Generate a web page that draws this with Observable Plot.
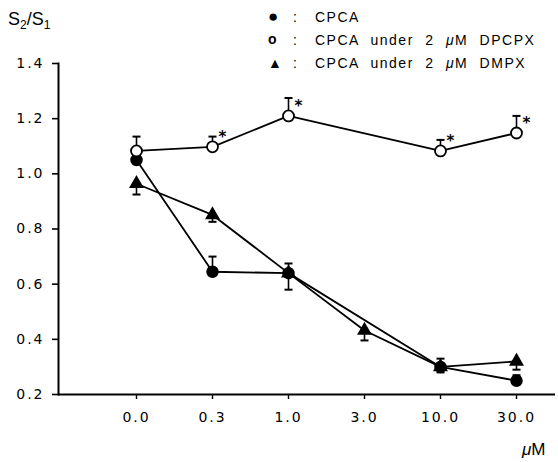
<!DOCTYPE html>
<html><head><meta charset="utf-8">
<script src="https://cdn.jsdelivr.net/npm/d3@7"></script>
<script src="https://cdn.jsdelivr.net/npm/@observablehq/plot@0.6"></script>
<style>
body{margin:0;background:#fff;}
#wrap{position:relative;width:558px;height:462px;font-family:"Liberation Sans",Arial,sans-serif;color:#000;}
#wrap svg{position:absolute;left:0;top:0;}
.ov{position:absolute;white-space:nowrap;line-height:1;}
#ytitle{left:8px;top:10px;font-size:18px;}
#ytitle sub{font-size:12px;vertical-align:-4px;line-height:0;}
#unit{left:522px;top:441px;font-size:17px;}
.leg{font-size:14px;letter-spacing:1.5px;word-spacing:6px;}
</style></head><body><div id="wrap"></div>
<script>
// Categories (x, evenly spaced)
const concentrations = ["0.0", "0.3", "1.0", "3.0", "10.0", "30.0"];
// CPCA (filled circles)
const cpca    = [1.05, 0.645, 0.64, null, 0.30, 0.25];
const cpcaErr = [null, 0.70, 0.675, null, 0.33, 0.27];
// CPCA under 2 µM DPCPX (open circles)
const dpcpx    = [1.083, 1.098, 1.21, null, 1.083, 1.148];
const dpcpxErr = [1.135, 1.135, 1.275, null, 1.123, 1.21];
const dpcpxSig = [false, true, true, false, true, true];
// CPCA under 2 µM DMPX (triangles)
const dmpx    = [0.964, 0.851, 0.64, 0.432, 0.30, 0.32];
const dmpxErr = [0.925, 0.826, 0.58, 0.396, 0.28, 0.29];
// y ticks
const yTicks = [0.2, 0.4, 0.6, 0.8, 1.0, 1.2, 1.4];
const legendLabels = ["CPCA", "CPCA under 2 \u03bcM DPCPX", "CPCA under 2 \u03bcM DMPX"];

const series = (vals, errs, sig) => concentrations
  .map((c, i) => ({c, v: vals[i], e: errs[i], s: sig ? sig[i] : false}))
  .filter(d => d.v != null);
const sCpca = series(cpca, cpcaErr);
const sDpcpx = series(dpcpx, dpcpxErr, dpcpxSig);
const sDmpx = series(dmpx, dmpxErr);

const cap = {draw(ctx, size) { const r = Math.sqrt(size / Math.PI); ctx.moveTo(-r, 0); ctx.lineTo(r, 0); }};
const errMarks = (s) => [
  Plot.ruleX(s.filter(d => d.e != null), {x: "c", y1: "v", y2: "e", stroke: "black", strokeWidth: 1.6}),
  Plot.dot(s.filter(d => d.e != null), {x: "c", y: "e", symbol: cap, r: 4, stroke: "black", strokeWidth: 2, fill: "none"})
];

const chart = Plot.plot({
  width: 558, height: 462,
  marginLeft: 58, marginRight: 3, marginTop: 63, marginBottom: 68,
  style: {fontFamily: "DejaVu Sans", fontSize: "14px", background: "transparent", color: "black", letterSpacing: "2px"},
  x: {type: "point", domain: concentrations, range: [135, 517], padding: 0, label: null},
  y: {domain: [0.2, 1.4], label: null},
  marks: [
    Plot.axisY({ticks: yTicks, tickFormat: d => d.toFixed(1), tickSize: 6, tickPadding: 8, label: null, strokeWidth: 1.6}),
    Plot.axisX({tickSize: 5, tickPadding: 13, label: null, strokeWidth: 1.4}),
    Plot.frame({anchor: "left", strokeWidth: 2}),
    Plot.ruleY([0.2], {strokeWidth: 2}),
    Plot.line(sCpca, {x: "c", y: "v", stroke: "black", strokeWidth: 1.8}),
    Plot.line(sDpcpx, {x: "c", y: "v", stroke: "black", strokeWidth: 1.8}),
    Plot.line(sDmpx, {x: "c", y: "v", stroke: "black", strokeWidth: 1.8}),
    ...errMarks(sCpca),
    ...errMarks(sDmpx),
    ...errMarks(sDpcpx),
    Plot.dot(sCpca, {x: "c", y: "v", r: 5.5, fill: "black", stroke: "black"}),
    Plot.dot(sDmpx, {x: "c", y: "v", symbol: "triangle", r: 4.6, fill: "black", stroke: "black"}),
    Plot.dot(sDpcpx, {x: "c", y: "v", r: 5.5, fill: "white", stroke: "black", strokeWidth: 1.8}),
    Plot.text(sDpcpx.filter(d => d.s), {x: "c", y: "v", text: () => "*", dx: 11, dy: -10, fontSize: 15, fontWeight: "bold", letterSpacing: "0px"})
  ]
});

const wrap = document.getElementById("wrap");
wrap.appendChild(chart);

const addDiv = (cls, html, style) => { const d = document.createElement("div"); d.className = "ov " + cls; d.innerHTML = html; Object.assign(d.style, style || {}); wrap.appendChild(d); return d; };
addDiv("", "S<sub>2</sub>/S<sub>1</sub>", {}).id = "ytitle";
addDiv("", "<i>\u03bc</i>M", {}).id = "unit";
const syms = ["\u25cf", "o", "\u25b2"];
const rowsY = [10, 33, 56];
legendLabels.forEach((t, i) => {
  addDiv("leg", syms[i], {left: "268px", top: (rowsY[i] + (i === 1 ? -1 : 0)) + "px", fontSize: i === 0 ? "17px" : "14px", marginTop: i === 0 ? "-2px" : "0", fontWeight: i === 1 ? "bold" : "normal"});
  addDiv("leg", ":", {left: "293px", top: rowsY[i] + "px"});
  addDiv("leg", t.replace(/\u03bc/, "<i>\u03bc</i>"), {left: "315px", top: rowsY[i] + "px"});
});
</script></body></html>
